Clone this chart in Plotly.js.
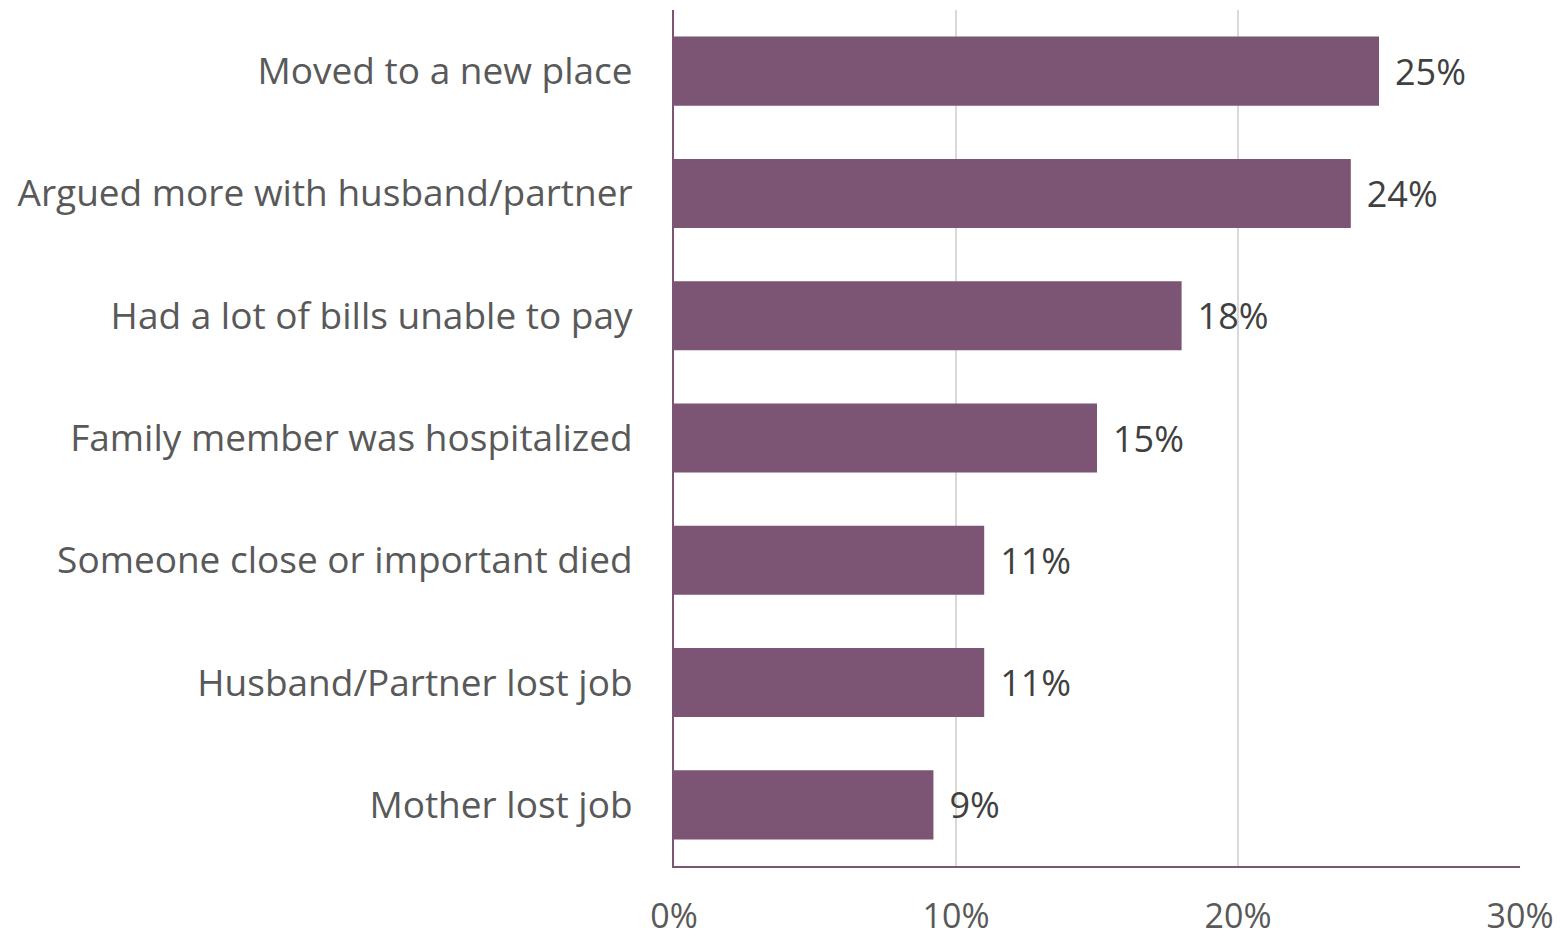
<!DOCTYPE html>
<html>
<head>
<meta charset="utf-8">
<script src="https://cdn.plot.ly/plotly-3.0.1.min.js"></script>
<style>html,body{margin:0;padding:0;background:#fff;}#chart{width:1566px;height:939px;}</style>
</head>
<body>
<div id="chart"></div>
<script>
const categories = [
  "Moved to a new place",
  "Argued more with husband/partner",
  "Had a lot of bills unable to pay",
  "Family member was hospitalized",
  "Someone close or important died",
  "Husband/Partner lost job",
  "Mother lost job"
];
const values = [25.0, 24.0, 18.0, 15.0, 11.0, 11.0, 9.2];
const xTickVals = [0, 10, 20, 30];
const xTickText = ["0%", "10%", "20%", "30%"];

const FONT = "Open Sans, sans-serif";
const trace = {
  type: "bar",
  orientation: "h",
  y: categories,
  x: values,
  marker: {color: "#7B5573"},
  text: values.map(v => "\u00a0\u200a" + Math.round(v) + "%"),
  texttemplate: "%{text}",
  textposition: "outside",
  textfont: {family: FONT, size: 36, color: "#404040"},
  cliponaxis: false,
  hoverinfo: "skip",
  width: 0.565
};

const layout = {
  width: 1566,
  height: 939,
  margin: {l: 674, r: 46, t: 10, b: 73},
  paper_bgcolor: "#fff",
  plot_bgcolor: "#fff",
  showlegend: false,
  font: {family: FONT, color: "#595959"},
  xaxis: {
    range: [0, 30],
    tickvals: xTickVals,
    ticktext: xTickText,
    showgrid: true,
    gridcolor: "#D9D9D9",
    gridwidth: 1.5,
    zeroline: false,
    showline: true,
    linecolor: "#7B5573",
    linewidth: 2,
    ticks: "",
    ticklabelstandoff: 19,
    tickfont: {family: FONT, size: 34, color: "#595959"},
    fixedrange: true
  },
  yaxis: {
    autorange: "reversed",
    showgrid: false,
    zeroline: false,
    showline: true,
    linecolor: "#7B5573",
    linewidth: 2,
    ticks: "",
    ticklabelstandoff: 32,
    tickfont: {family: FONT, size: 37, color: "#595959"},
    fixedrange: true
  }
};

Plotly.newPlot("chart", [trace], layout, {displayModeBar: false, staticPlot: true});
</script>
</body>
</html>
